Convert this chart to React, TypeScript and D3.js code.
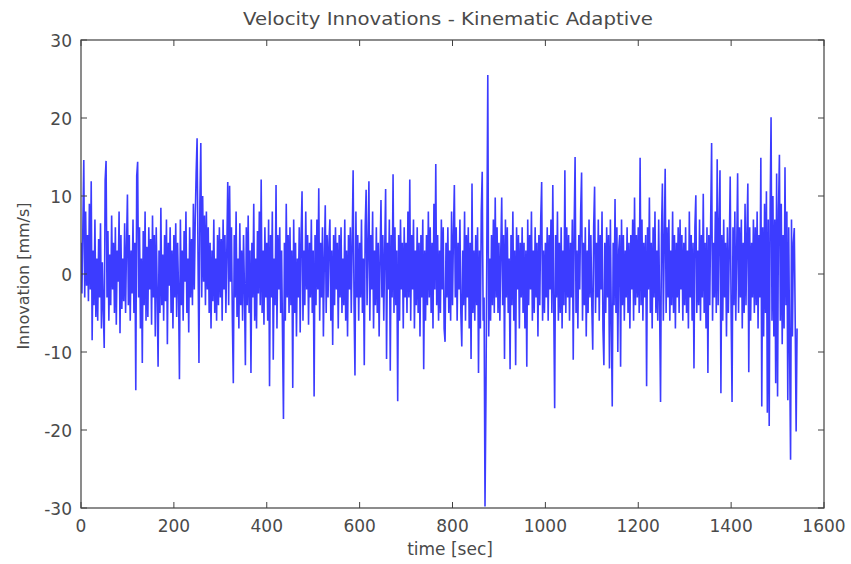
import React from "react";
import * as d3 from "d3";

const title = "Velocity Innovations - Kinematic Adaptive";
const xLabel = "time [sec]";
const yLabel = "Innovation [mm/s]";
const xTicks = [0, 200, 400, 600, 800, 1000, 1200, 1400, 1600];
const yTicks = [-30, -20, -10, 0, 10, 20, 30];
const sampleStep = 2; // seconds between samples

// innovation values [mm/s], one every 2 s starting at t = 0
const innovations: number[] = [
  4,-2.5,6,14.6,-3,8,-1.5,5,-3.5,9,-2,11.9,-8.5,3,-4,7,-5.5,2,-6,4.5,-3,6.5,-7,1.5,-4.5,
  -9.5,12,14.5,-3,5.5,-6,2.5,-4,7.5,-2,4,-5,6,-6.5,3,-1,8,-7.6,5,-4.5,2,-3.5,6.5,-5,3.5,
  10.2,-4,5,-6,3,-2.5,7,-5,4,-14.9,12.6,14.4,-3,6,-7,2,-11.4,5.5,-4,8,-6,3.5,-5.5,6,-2,
  4.5,-6.5,7.5,-3,5,-8,6,-2,-11.9,3,-5,8.5,-4,2.5,-6,5,-3.5,7,-9,4,-1.5,6,-5,3,-7,
  5,-3,6.5,-5.5,4,-2,-13.5,7,-4,3,-6,5.5,-1,8,-5,2,-7.5,6,-3,4.5,-4,9,-2,7,13,
  17.4,2,-11.4,9,16.8,-3,10,-1,7.5,-4,8,-2,6,-5,4,-7,3,-3.5,7,-5,2,-6,5,-4,6,
  -3,4.5,-6,7,-2,5,-5,3,11.8,-4,11.3,-1,6,-6,-14,5,-3,8,-5.5,2,-7,6.5,-4,3,-6,
  5,-2,-11.7,6,-4,7.5,-5,3,-12.7,4,-3,9,-6,2,-7,5.5,-2.5,8,-4,12.1,-5,3,-6.5,6,-3,
  4,-6,7,-14.4,5,-3,8,-11,2,-4,11.4,-7,5,-2,6,-5,3,-8,-18.6,4,-6,9,-3,5,-5,
  6,-4,3,-14.6,7,-5,4,-8,2,-3,6,-7.5,5,10.6,-6,3,-4,8,-2,5,-6.5,4,-3,7,-5,
  3,-15.7,5,-4,7,-2,11,-6,4,-3,6,-8,2,8.8,-5,5,-3,4,7,-6,3,-9.1,5,-4,6,
  -2,4,-7,5,-3,6,-5,2,-4,7,-6,3,-8,5,-2,6,-5,4,13.3,-4,-13,8,-3,5,-6,
  4,-3,7,-5,2,-11.7,6,10.8,-4,3,11.9,-6,5,-2,8,-7,3,-4,6,-5,4,-8,2,9.5,-3,
  5,-6,3,10.9,-10.9,4,-2,7,-12.4,5,-3,12.8,-5,6,-4,3,-16.3,5,-6,7,-2,4,-7,6,-3,
  4,-5,8,-3,12.1,-6,5,-2,7,-7,3,-4,6,-5,4,-8,5,-3,7,-12.2,3,-6,5,-4,8,
  -3,6,-5,4,-7,9,-2,14.1,-4,5,-6,3,-5,7,-2,6,-7,-8.7,4,-3,6,-5,3,-6,8,
  -4,5,11.4,-3,6,-6,4,-2,7,-5,-9.3,3,-4,8,-6,5,-3,6,-7,4,-10.9,11.6,-5,3,-6,
  5,-4,6,-12.7,3,-7,8,13.1,-6,-3,-29.8,-15.9,4,25.5,-8,2,-6,5,-4,7,-5,9.8,-3,6,-5,
  4,-6,3,9.8,-4,5,-10.9,7,-3,6,-5,2,-12.2,5,-4,8,-6,3,-11.7,6,-2,5,-7,4,-3,
  6,-5,4,-7,3,-11.9,7,-4,5,-2,8,-6,3,-5,6,-3,4,-8,5,-4,7,11.8,-6,3,-5,
  4,-3,6,-6,5,-2,7,-5,11.4,-4,-17.2,5,-3,8,-6,4,-5,6,-7,3,-4,13.3,-5,6,-3,
  5,-6,4,-3,7,-11,6,15,-5,3,-7,5,-2,8,13,-6,4,-4,6,-8,3,-5,7,-3,5,
  -4,-9.7,6,11.2,-5,4,-3,7,-6,5,-2,8,-7,-11.7,4,-5,6,-3,5,-12.1,7,-6,-17,4,-4,
  9.6,-5,6,-10,3,5,-11.9,7,-4,5,-6,3,-3,6,-5,4,-7,5,-2,7,-6,9.8,-4,5,-3,
  6,-5,14.9,-4,7,-6,4,-3,5,-14.4,6,-2,9.8,-5,4,-7,6,-3,8,-5,3,-6,7,-4,-16.4,
  5,11.6,-6,4,13.5,-5,6,-3,7,-6,3,-4,8,-5,5,-7,4,-3,6,-5,7,-2,5,-6,4,
  -4,6,-5,3,-7,8,-3,5,-6,4,-12.1,6,10.1,-5,3,-4,7,-6,5,-3,10.3,-5,4,-7,6,
  -12.7,5,-4,7,16.8,-6,4,-3,8,-5,14.7,-4,6,13.3,-15.3,5,-6,7,-3,4,-8,6,-5,3,12.5,
  -5,-16.4,6,-4,8,-6,3,12.9,-5,6,-3,7,-7,4,-5,9,-4,5,11.6,-12.6,6,-6,4,-3,7,
  -5,6,-4,8,-7,5,-3,14.9,-17,6,-8,9,-5,10.6,-17.8,7,-19.5,8,20.1,-6,10,-8,7,-14,12.9,
  -15.7,8,15.3,-6,9,-9,5,-7,13.7,-4,8,-16.2,6,-10,-23.8,7,-8,4,5.9,-6,-20.2,-7,
];

const W = 851;
const H = 564;
const M = { left: 81, top: 40, right: 824, bottom: 508 };
const axisColor = "#404040";
const textColor = "#4a4a4a";
const lineColor = "#3c3cff";
const font = "'DejaVu Sans', Verdana, sans-serif";

export default function App() {
  const x = d3.scaleLinear().domain([0, 1600]).range([M.left, M.right]);
  const y = d3.scaleLinear().domain([-30, 30]).range([M.bottom, M.top]);
  const line = d3
    .line<number>()
    .x((_, i) => x(i * sampleStep))
    .y((d) => y(d));
  const path = line(innovations) || "";
  const tickLen = 6;

  return (
    <svg
      width={W}
      height={H}
      style={{ position: "absolute", left: 0, top: 0, background: "#fff" }}
    >
      <defs>
        <clipPath id="plotClip">
          <rect x={M.left} y={M.top} width={M.right - M.left} height={M.bottom - M.top} />
        </clipPath>
      </defs>
      <rect x={0} y={0} width={W} height={H} fill="#fff" />
      <path
        d={path}
        fill="none"
        stroke={lineColor}
        strokeWidth={1.6}
        strokeLinejoin="miter"
        strokeMiterlimit={1}
        clipPath="url(#plotClip)"
      />
      <rect
        x={M.left}
        y={M.top}
        width={M.right - M.left}
        height={M.bottom - M.top}
        fill="none"
        stroke={axisColor}
        strokeWidth={1.2}
      />
      {xTicks.map((t) => (
        <g key={"x" + t}>
          <line x1={x(t)} x2={x(t)} y1={M.bottom} y2={M.bottom - tickLen} stroke={axisColor} />
          <line x1={x(t)} x2={x(t)} y1={M.top} y2={M.top + tickLen} stroke={axisColor} />
          <text
            x={x(t)}
            y={532}
            textAnchor="middle"
            fontFamily={font}
            fontSize={17}
            fill={textColor}
          >
            {t}
          </text>
        </g>
      ))}
      {yTicks.map((t) => (
        <g key={"y" + t}>
          <line x1={M.left} x2={M.left + tickLen} y1={y(t)} y2={y(t)} stroke={axisColor} />
          <line x1={M.right} x2={M.right - tickLen} y1={y(t)} y2={y(t)} stroke={axisColor} />
          <text
            x={72}
            y={y(t) + 6.5}
            textAnchor="end"
            fontFamily={font}
            fontSize={17}
            fill={textColor}
          >
            {t}
          </text>
        </g>
      ))}
      <text
        x={448}
        y={25}
        textAnchor="middle"
        fontFamily={font}
        fontSize={17}
        fill={textColor}
        textLength={410}
        lengthAdjust="spacingAndGlyphs"
      >
        {title}
      </text>
      <text
        x={450}
        y={555}
        textAnchor="middle"
        fontFamily={font}
        fontSize={17}
        fill={textColor}
      >
        {xLabel}
      </text>
      <text
        transform={`translate(29,${276}) rotate(-90)`}
        textAnchor="middle"
        fontFamily={font}
        fontSize={16}
        fill={textColor}
      >
        {yLabel}
      </text>
    </svg>
  );
}
